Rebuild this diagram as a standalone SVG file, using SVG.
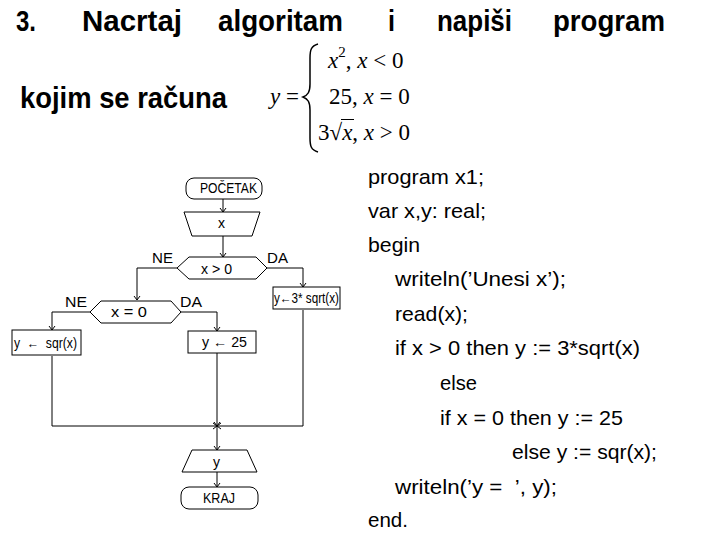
<svg xmlns="http://www.w3.org/2000/svg" width="720" height="540" viewBox="0 0 720 540">
<style>
.t{font-family:"Liberation Sans",Arial,sans-serif;font-weight:bold;font-size:29px;fill:#000}
.m{font-family:"Liberation Serif","Times New Roman",serif;font-size:23px;fill:#000}
.i{font-style:italic}
.c{font-family:"Liberation Sans",Arial,sans-serif;font-size:21px;fill:#000}
.f{font-family:"Liberation Sans",Arial,sans-serif;font-size:14px;fill:#000}
.s{fill:#fff;stroke:#000;stroke-width:1}
.l{fill:none;stroke:#000;stroke-width:1;marker-end:url(#a)}
</style>
<defs>
<marker id="a" markerUnits="userSpaceOnUse" markerWidth="10" markerHeight="10" refX="0" refY="0" viewBox="-6 -5 8 10" orient="auto" overflow="visible">
<path d="M-4,-3 L0,0 L-4,3" fill="none" stroke="#000" stroke-width="1"/>
</marker>
</defs>
<rect width="720" height="540" fill="#fff"/>
<g id="title">
<text class="t" x="16" y="31" textLength="20" lengthAdjust="spacingAndGlyphs">3.</text>
<text class="t" x="82" y="31" textLength="100" lengthAdjust="spacingAndGlyphs">Nacrtaj</text>
<text class="t" x="218" y="31" textLength="125" lengthAdjust="spacingAndGlyphs">algoritam</text>
<text class="t" x="388" y="31" textLength="7" lengthAdjust="spacingAndGlyphs">i</text>
<text class="t" x="437" y="31" textLength="75" lengthAdjust="spacingAndGlyphs">napiši</text>
<text class="t" x="553" y="31" textLength="112" lengthAdjust="spacingAndGlyphs">program</text>
<text class="t" x="20" y="108" textLength="207" lengthAdjust="spacingAndGlyphs">kojim se računa</text>
</g>
<g id="formula">
<text class="m" x="270" y="104"><tspan class="i">y</tspan> =</text>
<path d="M318,44 C311,46 310,50 310,58 L310,84 C310,92 308,95 303,97 C308,99 310,102 310,110 L310,138 C310,146 311,150 318,152" fill="none" stroke="#000" stroke-width="1.5"/>
<text class="m" x="328" y="68"><tspan class="i">x</tspan><tspan font-size="15" dy="-11">2</tspan><tspan dy="11">, </tspan><tspan class="i">x</tspan> &lt; 0</text>
<text class="m" x="329" y="104">25, <tspan class="i">x</tspan> = 0</text>
<text class="m" x="318" y="140">3√<tspan class="i">x</tspan>, <tspan class="i">x</tspan> &gt; 0</text>
<line x1="341" y1="119.5" x2="354" y2="119.5" stroke="#000" stroke-width="1"/>
</g>
<g id="code">
<text class="c" x="368" y="184" textLength="116" lengthAdjust="spacingAndGlyphs">program x1;</text>
<text class="c" x="368" y="218" textLength="118" lengthAdjust="spacingAndGlyphs">var x,y: real;</text>
<text class="c" x="368" y="252" textLength="52" lengthAdjust="spacingAndGlyphs">begin</text>
<text class="c" x="395" y="286" textLength="171" lengthAdjust="spacingAndGlyphs">writeln(’Unesi x’);</text>
<text class="c" x="395" y="321" textLength="73" lengthAdjust="spacingAndGlyphs">read(x);</text>
<text class="c" x="395" y="355" textLength="245" lengthAdjust="spacingAndGlyphs">if x &gt; 0 then y := 3*sqrt(x)</text>
<text class="c" x="440" y="390" textLength="37" lengthAdjust="spacingAndGlyphs">else</text>
<text class="c" x="440" y="425" textLength="183" lengthAdjust="spacingAndGlyphs">if x = 0 then y := 25</text>
<text class="c" x="512" y="459" textLength="145" lengthAdjust="spacingAndGlyphs">else y := sqr(x);</text>
<text class="c" x="395" y="494" textLength="162" lengthAdjust="spacingAndGlyphs" xml:space="preserve">writeln(’y =  ’, y);</text>
<text class="c" x="368" y="527" textLength="40" lengthAdjust="spacingAndGlyphs">end.</text>
</g>
<g id="connectors">
<path class="l" d="M223,199 V212"/>
<path class="l" d="M223,236 V257"/>
<path class="l" d="M177,268 H137 V300"/>
<path class="l" d="M267,268 H303 V287"/>
<path class="l" d="M90,312 H52 V330"/>
<path class="l" d="M181,312 H217 V331"/>
<path class="l" d="M52,356 V426 H217"/>
<path class="l" d="M217,353 V426"/>
<path class="l" d="M303,310 V426 H217"/>
<path class="l" d="M217,426 V450"/>
<path class="l" d="M217,472 V487"/>
</g>
<g id="start">
<rect class="s" x="186" y="178" width="76" height="21" rx="8"/>
<text class="f" x="200" y="193" textLength="57" lengthAdjust="spacingAndGlyphs">POČETAK</text>
</g>
<g id="input">
<polygon class="s" points="184,212 260,212 252,236 192,236"/>
<text class="f" x="218" y="228">x</text>
</g>
<g id="cond1">
<polygon class="s" points="177,268 189,257 256,257 267,268 256,279 189,279"/>
<text class="f" x="201" y="274" textLength="31" lengthAdjust="spacingAndGlyphs">x &gt; 0</text>
<text class="f" x="152" y="263" textLength="21" lengthAdjust="spacingAndGlyphs">NE</text>
<text class="f" x="267" y="263" textLength="21" lengthAdjust="spacingAndGlyphs">DA</text>
</g>
<g id="cond2">
<polygon class="s" points="90,312 101,301 171,301 181,312 171,323 101,323"/>
<text class="f" x="111" y="317" textLength="36" lengthAdjust="spacingAndGlyphs">x = 0</text>
<text class="f" x="65" y="307" textLength="22" lengthAdjust="spacingAndGlyphs">NE</text>
<text class="f" x="180" y="307" textLength="22" lengthAdjust="spacingAndGlyphs">DA</text>
</g>
<g id="assign3">
<rect class="s" x="273" y="287" width="67" height="22"/>
<text class="f" x="274" y="303" textLength="65" lengthAdjust="spacingAndGlyphs">y←3* sqrt(x)</text>
</g>
<g id="assignSqr">
<rect class="s" x="12" y="330" width="69" height="25"/>
<text class="f" x="14" y="348" textLength="63" lengthAdjust="spacingAndGlyphs" xml:space="preserve">y  ←  sqr(x)</text>
</g>
<g id="assign25">
<rect class="s" x="188" y="331" width="68" height="22"/>
<text class="f" x="202" y="347" textLength="45" lengthAdjust="spacingAndGlyphs">y ← 25</text>
</g>
<g id="output">
<polygon class="s" points="192,450 247,450 257,472 182,472"/>
<text class="f" x="213" y="467">y</text>
</g>
<g id="end">
<rect class="s" x="181" y="487" width="77" height="22" rx="8"/>
<text class="f" x="203" y="503" textLength="32" lengthAdjust="spacingAndGlyphs">KRAJ</text>
</g>
</svg>
